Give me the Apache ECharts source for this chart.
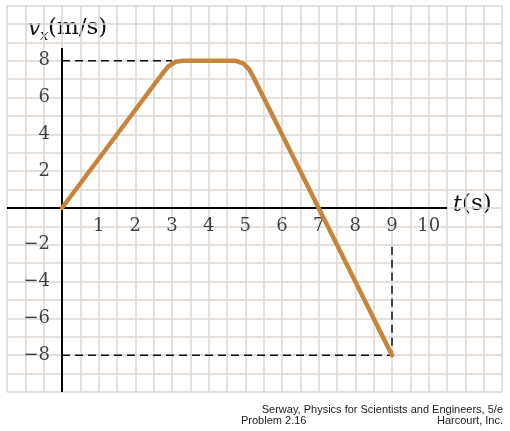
<!DOCTYPE html>
<html>
<head>
<meta charset="utf-8">
<script src="https://cdn.jsdelivr.net/npm/echarts@6/dist/echarts.min.js"></script>
<style>html,body{margin:0;padding:0;background:#fff}#c{width:510px;height:431px}</style>
</head>
<body>
<div id="c"></div>
<script>
// ---- data ----
var velocityCurve = [[0,0],[2.7,7.2],[2.9,7.7],[3.1,7.95],[3.3,8],[4.75,8],[4.95,7.85],[5.1,7.55],[5.25,7.0],[9,-8]];
var dashTop = [[0,8],[3,8]];
var dashBottom = [[0,-8],[9,-8]];
var dashVertical = [[9,-2.1],[9,-8]];
var xAxisLineData = [[-1.5,0],[10.5,0]];
var yAxisLineData = [[0,8.7],[0,-10]];
var xTickLabels = [1,2,3,4,5,6,7,8,9,10];
var yTickLabels = [8,6,4,2,-2,-4,-6,-8];

var serif = '"DejaVu Serif", serif';
var sans = '"Liberation Sans", Arial, sans-serif';
var chart = echarts.init(document.getElementById('c'), null, {renderer:'canvas'});

function dashSeries(d){
  return {type:'line', data:d, symbol:'none', silent:true,
    lineStyle:{color:'#111', width:1.5, type:[8,5]}};
}
function blackLine(d){
  return {type:'line', data:d, symbol:'none', silent:true,
    lineStyle:{color:'#000', width:2}};
}
function fmtNum(v){ return v<0 ? '\u2212'+(-v) : String(v); }

chart.setOption({
  animation:false,
  backgroundColor:'#fff',
  grid:{left:7, right:8, top:5.6, bottom:39, containLabel:false, outerBoundsMode:'none'},
  xAxis:{type:'value', min:-1.5, max:12, interval:0.5,
    axisLine:{show:false}, axisTick:{show:false}, axisLabel:{show:false},
    splitLine:{show:true, lineStyle:{color:'#dcd6d1', width:1.5}}
  },
  yAxis:{type:'value', min:-10, max:11, interval:1,
    axisLine:{show:false}, axisTick:{show:false}, axisLabel:{show:false},
    splitLine:{show:true, lineStyle:{color:'#dcd6d1', width:1.5}}
  },
  series:[
    dashSeries(dashTop),
    dashSeries(dashBottom),
    dashSeries(dashVertical),
    blackLine(xAxisLineData),
    blackLine(yAxisLineData),
    {type:'line', data:velocityCurve, symbol:'none', silent:true,
      lineStyle:{color:'#c6843c', width:4.5, cap:'round', join:'round'}},
    {type:'scatter', silent:true, symbolSize:0,
      data:xTickLabels.map(function(v){return [v,0];}),
      label:{show:true, position:'bottom', distance:9, color:'#111', fontFamily:serif, fontSize:18,
        formatter:function(p){return fmtNum(p.value[0]);}}},
    {type:'scatter', silent:true, symbolSize:0,
      data:yTickLabels.map(function(v){return [0,v];}),
      label:{show:true, position:'left', distance:12, color:'#111', fontFamily:serif, fontSize:18,
        formatter:function(p){return fmtNum(p.value[1]);}}}
  ],
  graphic:[
    {type:'text', left:28, top:18, style:{text:'v', font:'italic 22px '+serif, fill:'#111'}},
    {type:'text', left:40, top:29, style:{text:'x', font:'italic 15px '+serif, fill:'#111'}},
    {type:'text', left:48, top:17, style:{text:'(m/s)', font:'23px '+serif, fill:'#111'}},
    {type:'text', left:453, top:194, style:{text:'t', font:'italic 22px '+serif, fill:'#111'}},
    {type:'text', left:462, top:193, style:{text:'(s)', font:'23px '+serif, fill:'#111'}},
    {type:'text', right:7, top:404, style:{text:'Serway, Physics for Scientists and Engineers, 5/e', font:'11px '+sans, fill:'#222'}},
    {type:'text', left:241, top:415, style:{text:'Problem 2.16', font:'11px '+sans, fill:'#222'}},
    {type:'text', right:7, top:415, style:{text:'Harcourt, Inc.', font:'11px '+sans, fill:'#222'}}
  ]
});
</script>
</body>
</html>
